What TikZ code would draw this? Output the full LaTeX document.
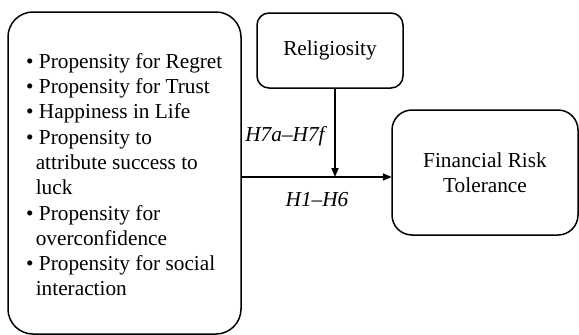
\documentclass[tikz,border=0pt]{standalone}
\usepackage{fontspec}
\setmainfont{Liberation Serif}
\usetikzlibrary{arrows.meta}
\tikzset{
  box/.style={draw, line width=1.5pt},
  area/.style={inner sep=0pt},
  txt/.style={font=\fontsize{21.3}{25.3}\selectfont, inner sep=0pt},
  lbl/.style={font=\fontsize{21.3}{25.3}\selectfont\itshape, inner sep=0pt},
  arr/.style={line width=1.5pt, -{Triangle[length=9pt,width=7pt]}}
}
\begin{document}
\begin{tikzpicture}[x=1pt,y=-1pt]
\useasboundingbox (0,0) rectangle (579,335);
% boxes
\draw[box, rounded corners=25pt] (8,12) rectangle (241,334);
\node[area, minimum width=233pt, minimum height=322pt] (left) at (124.5,173) {};
\draw[box, rounded corners=12pt] (257,13) rectangle (403,88);
\node[area, minimum width=146pt, minimum height=75pt] (rel) at (330,50.5) {};
\draw[box, rounded corners=20pt] (392,110) rectangle (578,235);
\node[area, minimum width=186pt, minimum height=125pt] (frt) at (485,172.5) {};
% texts
\node[txt, anchor=north west, align=left] (list) at (26,53) {%
\textbullet{} Propensity for Regret\\
\textbullet{} Propensity for Trust\\
\textbullet{} Happiness in Life\\
\textbullet{} Propensity to\\
\hspace*{0.45em}attribute success to\\
\hspace*{0.45em}luck\\
\textbullet{} Propensity for\\
\hspace*{0.45em}overconfidence\\
\textbullet{} Propensity for social\\
\hspace*{0.45em}interaction};
\node[txt] (reltxt) at (rel.center) {Religiosity};
\node[txt, align=center] (frttxt) at (frt.center) {Financial Risk\\Tolerance};
% connectors
\coordinate (m) at (335,177);
\draw[arr] (left.east |- m) -- (frt.west |- m);
\draw[arr] (rel.south -| m) -- (m);
\node[lbl] (h7) at (285,136) {H7a–H7f};
\node[lbl] (h1) at (317,200) {H1–H6};
\end{tikzpicture}
\end{document}
